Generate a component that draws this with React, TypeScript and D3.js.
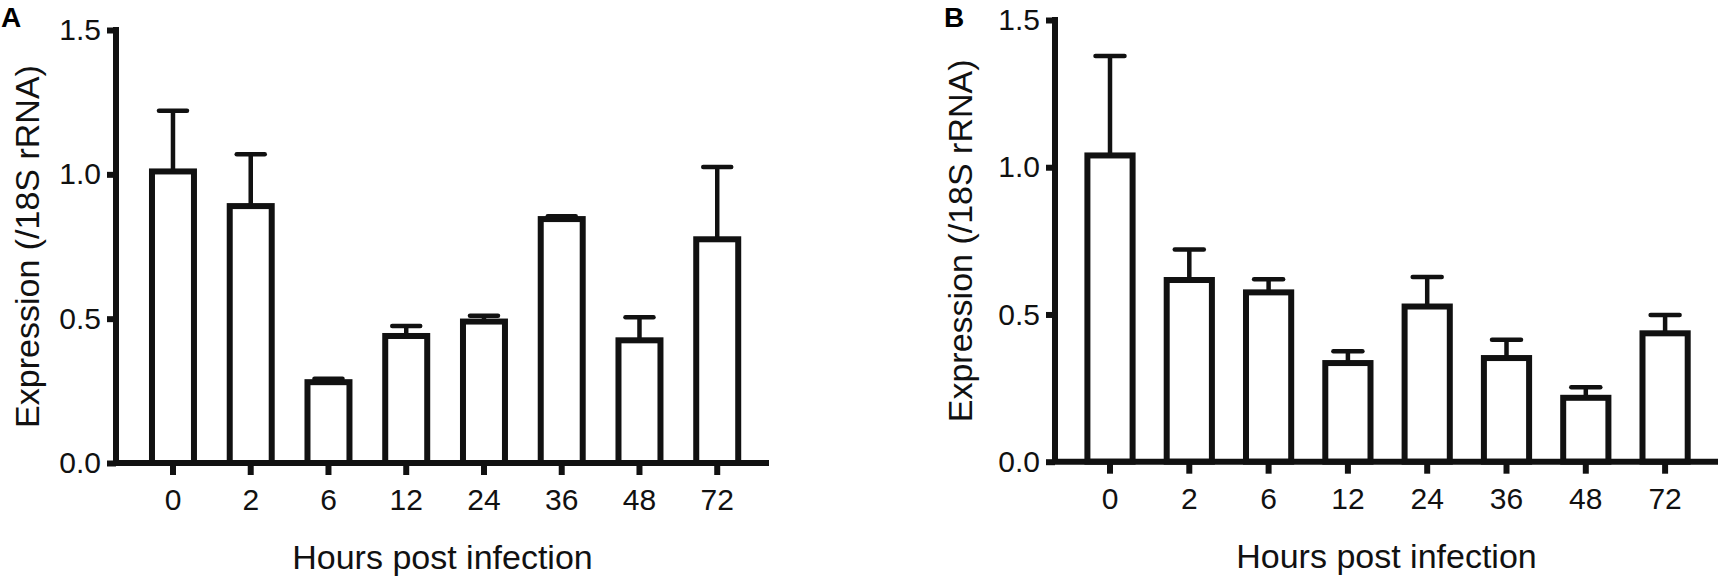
import React, { useEffect, useRef } from "react";
import * as d3 from "d3";

const hours = ["0", "2", "6", "12", "24", "36", "48", "72"];
const meanA = [1.01, 0.89, 0.28, 0.44, 0.49, 0.845, 0.425, 0.775];
const errA = [0.21, 0.18, 0.012, 0.035, 0.02, 0.01, 0.08, 0.25];
const meanB = [1.04, 0.617, 0.575, 0.335, 0.527, 0.352, 0.217, 0.436];
const errB = [0.338, 0.104, 0.045, 0.04, 0.1, 0.062, 0.036, 0.062];
const yTicks = [0, 0.5, 1.0, 1.5];

interface PanelConf {
  label: string;
  means: number[];
  errs: number[];
  axisX: number;
  axisEnd: number;
  yTop: number;
  yBottom: number;
  bandStart: number;
  bandEnd: number;
  padInner: number;
  capW: number;
  labelX: number;
  yTitleX: number;
}

const FONT = "'Liberation Sans', Arial, Helvetica, sans-serif";
const INK = "#111";
const LW = 6;

export default function App() {
  const svgRef = useRef<SVGSVGElement>(null);

  useEffect(() => {
    if (!svgRef.current) return;
    const svg = d3.select(svgRef.current);
    svg.selectAll("*").remove();

    const panels: PanelConf[] = [
      {
        label: "A",
        means: meanA,
        errs: errA,
        axisX: 116,
        axisEnd: 769,
        yTop: 30,
        yBottom: 463,
        bandStart: 134.1,
        bandEnd: 756.1,
        padInner: 0.46,
        capW: 28,
        labelX: 1,
        yTitleX: 27,
      },
      {
        label: "B",
        means: meanB,
        errs: errB,
        axisX: 1055,
        axisEnd: 1718,
        yTop: 20,
        yBottom: 461.7,
        bandStart: 1070.35,
        bandEnd: 1704.75,
        padInner: 0.43,
        capW: 29,
        labelX: 944,
        yTitleX: 960,
      },
    ];

    panels.forEach((p) => {
      const g = svg.append("g");
      const y = d3.scaleLinear().domain([0, 1.5]).range([p.yBottom, p.yTop]);
      const x = d3
        .scaleBand()
        .domain(hours)
        .range([p.bandStart, p.bandEnd])
        .paddingInner(p.padInner)
        .paddingOuter(p.padInner / 2);

      // bars
      g.selectAll(".bar")
        .data(p.means)
        .enter()
        .append("rect")
        .attr("x", (_, i) => x(hours[i])!)
        .attr("y", (d) => y(d))
        .attr("width", x.bandwidth())
        .attr("height", (d) => y(0) - y(d))
        .attr("fill", "#fff")
        .attr("stroke", INK)
        .attr("stroke-width", LW);

      // error bars (upper only)
      const cx = (i: number) => x(hours[i])! + x.bandwidth() / 2;
      g.selectAll(".stem")
        .data(p.means)
        .enter()
        .append("line")
        .attr("x1", (_, i) => cx(i))
        .attr("x2", (_, i) => cx(i))
        .attr("y1", (d) => y(d))
        .attr("y2", (d, i) => y(d + p.errs[i]))
        .attr("stroke", INK)
        .attr("stroke-width", 4.5);
      g.selectAll(".cap")
        .data(p.means)
        .enter()
        .append("line")
        .attr("x1", (_, i) => cx(i) - p.capW / 2)
        .attr("x2", (_, i) => cx(i) + p.capW / 2)
        .attr("y1", (d, i) => y(d + p.errs[i]))
        .attr("y2", (d, i) => y(d + p.errs[i]))
        .attr("stroke", INK)
        .attr("stroke-width", 4.5)
        .attr("stroke-linecap", "round");

      // y axis
      const yAxis = g
        .append("g")
        .attr("transform", `translate(${p.axisX},0)`)
        .call(
          d3
            .axisLeft(y)
            .tickValues(yTicks)
            .tickFormat(d3.format(".1f"))
            .tickSize(9)
            .tickPadding(6)
        );
      yAxis.select(".domain").remove();
      yAxis.selectAll("line").attr("stroke", INK).attr("stroke-width", LW);
      yAxis
        .selectAll("text")
        .attr("fill", INK)
        .style("font-family", FONT)
        .style("font-size", "30px");

      // x axis
      const xAxis = g
        .append("g")
        .attr("transform", `translate(0,${p.yBottom})`)
        .call(d3.axisBottom(x).tickSize(12).tickPadding(14));
      xAxis.select(".domain").remove();
      xAxis.selectAll("line").attr("stroke", INK).attr("stroke-width", LW);
      xAxis
        .selectAll("text")
        .attr("fill", INK)
        .style("font-family", FONT)
        .style("font-size", "30px");

      // axis lines
      g.append("line")
        .attr("x1", p.axisX)
        .attr("x2", p.axisX)
        .attr("y1", y(1.5) - LW / 2)
        .attr("y2", y(0))
        .attr("stroke", INK)
        .attr("stroke-width", LW);
      g.append("line")
        .attr("x1", p.axisX - LW / 2)
        .attr("x2", p.axisEnd)
        .attr("y1", y(0))
        .attr("y2", y(0))
        .attr("stroke", INK)
        .attr("stroke-width", LW);

      // titles
      g.append("text")
        .attr("x", (p.axisX + p.axisEnd) / 2)
        .attr("y", p.yBottom + 106)
        .attr("text-anchor", "middle")
        .attr("fill", INK)
        .style("font-family", FONT)
        .style("font-size", "34px")
        .text("Hours post infection");

      g.append("text")
        .attr(
          "transform",
          `translate(${p.yTitleX},${(p.yTop + p.yBottom) / 2}) rotate(-90)`
        )
        .attr("text-anchor", "middle")
        .attr("dominant-baseline", "central")
        .attr("fill", INK)
        .style("font-family", FONT)
        .style("font-size", "34px")
        .text("Expression (/18S rRNA)");

      g.append("text")
        .attr("x", p.labelX)
        .attr("y", 27)
        .attr("fill", "#000")
        .style("font-family", FONT)
        .style("font-size", "28px")
        .style("font-weight", "bold")
        .text(p.label);
    });
  }, []);

  return (
    <svg
      ref={svgRef}
      width={1727}
      height={586}
      viewBox="0 0 1727 586"
      style={{ position: "absolute", left: 0, top: 0, background: "#fff" }}
    />
  );
}
